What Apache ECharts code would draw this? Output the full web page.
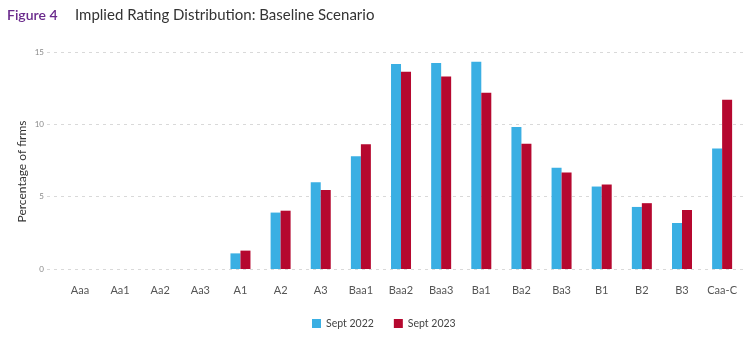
<!DOCTYPE html>
<html><head><meta charset="utf-8">
<script src="https://cdn.jsdelivr.net/npm/echarts@6/dist/echarts.min.js"></script>
<style>html,body{margin:0;padding:0;background:#fff}#c{width:749px;height:342px}</style>
</head><body><div id="c"></div>
<script>
const categories = ['Aaa','Aa1','Aa2','Aa3','A1','A2','A3','Baa1','Baa2','Baa3','Ba1','Ba2','Ba3','B1','B2','B3','Caa-C'];
const sept2022 = [0,0,0,0,1.08,3.9,6.0,7.8,14.17,14.24,14.33,9.82,7.0,5.7,4.29,3.18,8.33];
const sept2023 = [0,0,0,0,1.27,4.03,5.46,8.62,13.64,13.3,12.19,8.65,6.67,5.84,4.55,4.08,11.7];
const yTicks = [0,5,10,15];

const idx = categories.map((c,i)=>i);
const chart = echarts.init(document.getElementById('c'));
chart.setOption({
  animation:false,
  textStyle:{fontFamily:'Lato'},
  title:{
    left:7, top:8, padding:0,
    text:'{a|Figure 4}{b|Implied Rating Distribution: Baseline Scenario}',
    textStyle:{rich:{
      a:{fontFamily:'Lato',fontSize:14,color:'#6a2a8c',fontWeight:600,width:68},
      b:{fontFamily:'Lato',fontSize:15,color:'#333333',fontWeight:'normal'}
    }}
  },
  legend:{
    bottom:8, left:307, itemWidth:9, itemHeight:9, itemGap:20,
    icon:'rect',
    textStyle:{fontSize:10.5,color:'#444',fontFamily:'Lato'},
    data:['Sept 2022','Sept 2023']
  },
  grid:{left:47,right:4,top:52,bottom:73},
  xAxis:{
    type:'value', min:-0.82, max:16.57,
    axisLine:{show:false}, axisTick:{show:false}, splitLine:{show:false},
    axisLabel:{color:'#555',fontSize:11,margin:16,customValues:idx,
      formatter:v=>categories[Math.round(v)]||''}
  },
  yAxis:{
    type:'value', min:0, max:15, interval:5,
    axisLine:{show:false}, axisTick:{show:false},
    name:'Percentage of firms', nameLocation:'middle', nameGap:19, nameMoveOverlap:false,
    nameTextStyle:{fontSize:12,color:'#333',fontFamily:'Lato',padding:[0,22,0,0]},
    axisLabel:{color:'#888',fontSize:8,margin:3,
      formatter:v=>yTicks.includes(v)?String(v):''},
    splitLine:{lineStyle:{color:'#d9d9d9',type:[3,4],width:1}}
  },
  series:[
    {name:'Sept 2022',type:'bar',data:sept2022.map((v,i)=>[i,v]),barWidth:10,barGap:'0%',itemStyle:{color:'#3aafe3'}},
    {name:'Sept 2023',type:'bar',data:sept2023.map((v,i)=>[i,v]),barWidth:10,barGap:'0%',itemStyle:{color:'#b5082f'}}
  ]
});
</script></body></html>
